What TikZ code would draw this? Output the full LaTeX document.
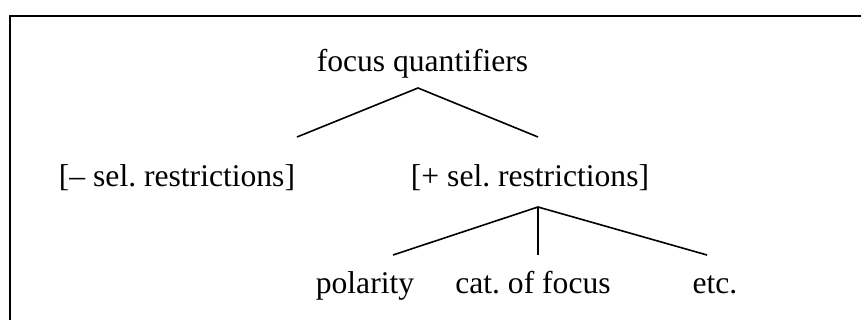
\documentclass[tikz,border=0pt]{standalone}
\usepackage{fontspec}
\setmainfont{Liberation Serif}
\frenchspacing
\begin{document}
\begin{tikzpicture}[x=0.75pt,y=-0.75pt,
  lbl/.style={anchor=base,inner sep=0pt,font=\fontsize{23.7}{28}\selectfont},
  branch/.style={line width=1.2pt},
  frame/.style={line width=1.6pt}]
\useasboundingbox (0,0) rectangle (861,320);
\begin{scope}
\clip (0,0) rectangle (861,320);
\draw[frame] (10,330) -- (10,16) -- (870,16);
\end{scope}
\node[lbl] (fq) at (422.5,72) {focus quantifiers};
\node[lbl] (minus) at (177,187) {[– sel. restrictions]};
\node[lbl] (plus) at (530,187) {[+ sel. restrictions]};
\node[lbl] (pol) at (365,294) {polarity};
\node[lbl] (cat) at (533,294) {cat. of focus};
\node[lbl] (etc) at (715,294) {etc.};
\coordinate (fqroot) at (418,88);
\coordinate (minustop) at (297,137);
\coordinate (plustop) at (538,137);
\coordinate (plusroot) at (538,207);
\coordinate (poltop) at (393,255);
\coordinate (cattop) at (538,255);
\coordinate (etctop) at (707,255);
\draw[branch] (minustop) -- (fqroot) -- (plustop);
\draw[branch] (poltop) -- (plusroot) -- (etctop);
\draw[branch] (plusroot) -- (cattop);
\end{tikzpicture}
\end{document}
